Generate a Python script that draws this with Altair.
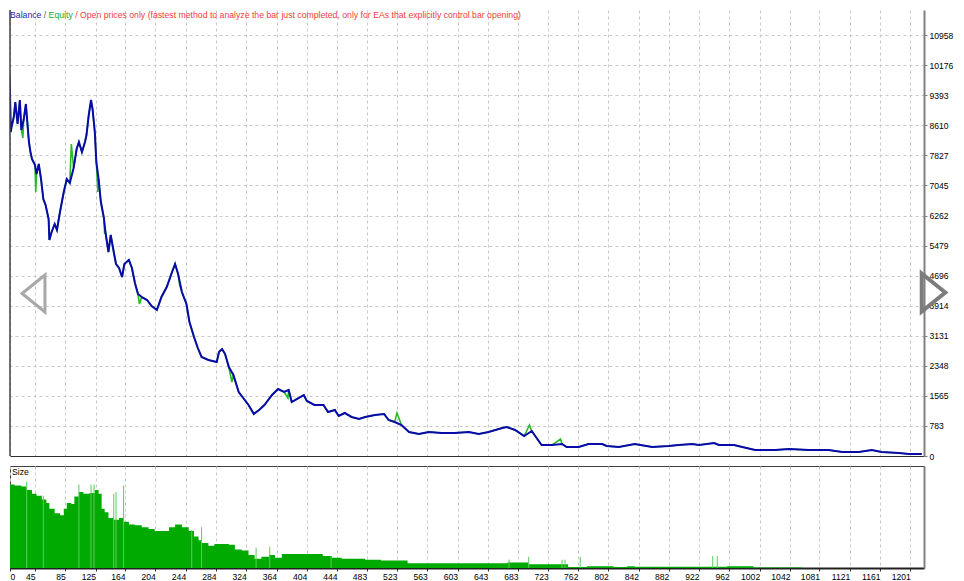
import altair as alt
import pandas as pd

# ---------------- data ----------------
bal_bar = [5, 6, 8, 9, 10, 12, 13, 14, 17, 19,
           22, 25, 27, 30, 33, 34, 37, 39, 41, 45,
           47, 50, 53, 56, 59, 63, 64, 67, 71, 74,
           78, 83, 87, 91, 96, 100, 103, 107, 111, 113,
           116, 119, 121, 124, 126, 129, 132, 136, 138, 142,
           145, 149, 152, 156, 160, 163, 169, 173, 177, 181,
           186, 193, 199, 206, 212, 219, 226, 230, 234, 239,
           245, 249, 255, 260, 265, 274, 285, 288, 292, 296,
           301, 307, 314, 321, 327, 334, 341, 348, 358, 366,
           374, 380, 384, 393, 400, 404, 414, 426, 432, 441,
           446, 454, 463, 473, 481, 494, 506, 512, 520, 529,
           539, 552, 565, 582, 599, 618, 631, 644, 662, 668,
           679, 691, 701, 714, 728, 741, 747, 763, 776, 794,
           800, 816, 837, 860, 882, 895, 913, 922, 942, 948,
           968, 979, 996, 1022, 1041, 1067, 1093, 1111, 1133, 1150,
           1163, 1186, 1199, 1216]
bal_val = [10000, 10390, 10572, 10728, 10468, 9479, 8437, 8567, 8828, 9218,
           8645, 9270, 8489, 8749, 9166, 8906, 8177, 7916, 7734, 7578,
           7343, 7604, 7213, 6692, 6536, 6171, 5625, 5833, 6041, 5885,
           6354, 6875, 7213, 7109, 7500, 7994, 8177, 7916, 8177, 8359,
           8880, 9270, 9036, 8437, 7656, 7213, 6614, 6198, 5833, 5312,
           5755, 5312, 5000, 4896, 4661, 5000, 5104, 4896, 4505, 4218,
           4140, 4062, 3906, 3802, 4140, 4401, 4791, 5000, 4739, 4271,
           3958, 3489, 3099, 2812, 2578, 2500, 2448, 2708, 2786, 2656,
           2318, 2109, 1667, 1484, 1328, 1094, 1198, 1328, 1588, 1745,
           1667, 1719, 1406, 1510, 1588, 1432, 1328, 1328, 1146, 1198,
           1042, 1120, 1016, 963, 1016, 1068, 1094, 937, 885, 807,
           625, 573, 625, 599, 599, 625, 573, 625, 729, 755,
           677, 521, 651, 286, 286, 312, 234, 234, 312, 312,
           260, 234, 312, 234, 260, 286, 312, 286, 339, 286,
           286, 234, 156, 156, 182, 156, 156, 104, 104, 156,
           104, 78, 52, 52]

# equity departs from balance only at these bars
eq_spike_bar = [29, 46, 93, 128, 137, 183, 236, 305, 379, 523, 698, 739]
eq_spike_val = [8281, 6875, 8124, 6875, 5781, 3958, 4453, 1927, 1510, 1120, 807, 443]

size_bar = [5, 10, 18, 27, 34, 41, 47, 54, 60, 64,
            71, 78, 83, 87, 93, 97, 103, 109, 117, 124,
            129, 133, 137, 142, 149, 156, 162, 169, 177, 186,
            195, 203, 212, 222, 230, 239, 248, 255, 261, 265,
            274, 282, 301, 309, 318, 327, 335, 344, 354, 362,
            371, 425, 437, 450, 481, 502, 537, 669, 697, 749,
            774, 809, 827, 837, 959, 994, 1058]
size_val = [1.01, 0.90, 0.89, 0.88, 0.84, 0.80, 0.78, 0.74, 0.70, 0.64,
            0.59, 0.57, 0.64, 0.70, 0.69, 0.77, 0.82, 0.80, 0.81, 0.84,
            0.80, 0.64, 0.60, 0.54, 0.52, 0.54, 0.50, 0.47, 0.46, 0.44,
            0.42, 0.40, 0.40, 0.44, 0.47, 0.44, 0.40, 0.34, 0.30, 0.27,
            0.24, 0.26, 0.25, 0.20, 0.19, 0.14, 0.10, 0.12, 0.14, 0.11,
            0.15, 0.13, 0.11, 0.10, 0.09, 0.08, 0.05, 0.06, 0.04, 0.01,
            0.02, 0.01, 0.02, 0.013, 0.02, 0.005, 0.0]

size_spike_bar = [34, 56, 103, 119, 123, 149, 152, 162, 252, 265,
                  337, 355, 436, 671, 697, 741, 745, 765, 940, 946]
size_spike_val = [0.93, 0.78, 0.90, 0.90, 0.90, 0.80, 0.82, 0.89, 0.41, 0.44,
                  0.22, 0.23, 0.13, 0.09, 0.12, 0.09, 0.09, 0.12, 0.13, 0.13]

y_ticks = [0, 783, 1565, 2348, 3131, 3914, 4696, 5479, 6262, 7045,
           7827, 8610, 9393, 10176, 10958, 11741]
x_ticks = [12, 45, 85, 125, 164, 204, 244, 284, 324, 364, 404, 444, 483, 523,
           563, 603, 643, 683, 723, 762, 802, 842, 882, 922, 962, 1002, 1042,
           1081, 1121, 1161, 1201]
first_x_label = "0"

legend_parts = ["Balance", "/", "Equity",
                "/ Open prices only (fastest method to analyze the bar just completed, "
                "only for EAs that explicitly control bar opening)"]
legend_colors = ["#1c1caa", "#555555", "#22aa22", "#f03c3c"]
legend_x = [0, 33.8, 38.6, 65.2]

# ---------------- layout / style ----------------
W = 914
H_MAIN = 446
H_SIZE = 102
X_DOM = [12, 1219]
Y_DOM = [0, 11614]
S_DOM = [0, 1.10]
FONT = "Liberation Sans"
GRID = "#c8c8c8"

bal_df = pd.DataFrame({"bar": bal_bar, "val": bal_val})
eq_df = pd.concat([bal_df, pd.DataFrame({"bar": eq_spike_bar, "val": eq_spike_val})]
                  ).sort_values("bar").reset_index(drop=True)
size_df = pd.DataFrame({"bar": size_bar, "size": size_val})
spike_df = pd.DataFrame({"bar": size_spike_bar, "size": size_spike_val})
one = pd.DataFrame({"a": [0]})

y_vals = [v for v in y_ticks if v <= Y_DOM[1]]

x_main = alt.X("bar:Q", scale=alt.Scale(domain=X_DOM, nice=False, zero=False),
               axis=alt.Axis(values=x_ticks, labels=False, ticks=False, domain=True,
                             domainColor="#303030", domainWidth=1, grid=True,
                             gridColor=GRID, gridDash=[3, 3], title=None))
y_main = alt.Y("val:Q", scale=alt.Scale(domain=Y_DOM, nice=False, zero=False),
               axis=alt.Axis(orient="right", values=y_vals, format="d", grid=True,
                             gridColor=GRID, gridDash=[3, 3], domainColor="#808080",
                             domainWidth=2, tickColor="#808080", tickSize=3,
                             labelPadding=2, title=None))

equity = alt.Chart(eq_df).mark_line(color="#2ab82a", strokeWidth=1.6, clip=True).encode(
    x=x_main, y=y_main)
balance = alt.Chart(bal_df).mark_line(color="#0a0aaa", strokeWidth=2, clip=True).encode(
    x=x_main, y=y_main)

texts = []
for part, col, px in zip(legend_parts, legend_colors, legend_x):
    texts.append(
        alt.Chart(pd.DataFrame({"t": [part]})).mark_text(
            align="left", baseline="top", font=FONT, fontSize=8.7, color=col
        ).encode(x=alt.value(px), y=alt.value(1), text="t:N")
    )

left_arrow = alt.Chart(one).mark_point(
    shape="M0.62,-1L-0.62,0L0.62,1Z", size=1369, filled=False,
    stroke="#a8a8a8", strokeWidth=3, opacity=1
).encode(x=alt.value(23.5), y=alt.value(283.5))
right_arrow = alt.Chart(one).mark_point(
    shape="M-0.62,-1L0.62,0L-0.62,1Z", size=1444, filled=False,
    stroke="#7c7c7c", strokeWidth=4, opacity=1
).encode(x=alt.value(923.5), y=alt.value(282.5))

left_border = alt.Chart(one).mark_rule(color="#404040", strokeWidth=1.5).encode(
    x=alt.value(0), y=alt.value(0), y2=alt.value(H_MAIN))

main = alt.layer(equity, balance, left_border, *texts, left_arrow, right_arrow).properties(
    width=W, height=H_MAIN, view=alt.ViewBackground(stroke="transparent"))

x_size = alt.X("bar:Q", scale=alt.Scale(domain=X_DOM, nice=False, zero=False),
               axis=alt.Axis(values=x_ticks, format="d",
                             labelExpr="datum.value == %d ? '%s' : datum.label" % (x_ticks[0], first_x_label),
                             labelAlign={"condition": {"test": "datum.value == %d" % x_ticks[0],
                                                       "value": "left"},
                                         "value": "right"},
                             tickSize=3, tickColor="#303030", domainColor="#202020",
                             domainWidth=2, grid=True, gridColor=GRID, gridDash=[3, 3],
                             labelPadding=1, title=None))
y_size = alt.Y("size:Q", scale=alt.Scale(domain=S_DOM, nice=False, zero=False),
               axis=alt.Axis(orient="right", labels=False, ticks=False, grid=False,
                             domainColor="#808080", domainWidth=2, title=None))

size_area = alt.Chart(size_df).mark_area(
    interpolate="step-after", color="#00aa00", clip=True).encode(x=x_size, y=y_size)
size_spikes = alt.Chart(spike_df).mark_rule(
    color="#5ccc5c", strokeWidth=1, clip=True).encode(x=x_size, y=y_size, y2=alt.datum(0))
size_label = alt.Chart(pd.DataFrame({"t": ["Size"]})).mark_text(
    align="left", baseline="top", font=FONT, fontSize=8.7, color="#000000"
).encode(x=alt.value(2), y=alt.value(2), text="t:N")

size_panel = alt.layer(size_area, size_spikes, size_label).properties(
    width=W, height=H_SIZE, view=alt.ViewBackground(stroke="#404040", strokeWidth=1))

chart = alt.vconcat(main, size_panel, spacing=3).resolve_scale(
    x="independent", y="independent"
).properties(
    padding={"left": 0, "top": 0, "right": 0, "bottom": 0},
    background="white"
).configure_axis(
    labelFont=FONT, labelFontSize=8.6, labelColor="#000000"
)

chart.save("out.html", embed_options={"renderer": "svg", "actions": False})
